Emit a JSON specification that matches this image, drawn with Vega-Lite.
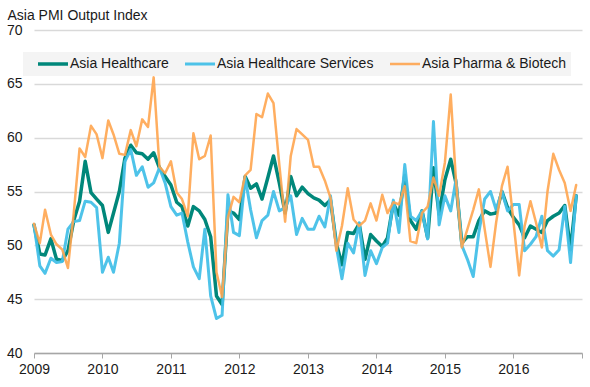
{
  "$schema": "https://vega.github.io/schema/vega-lite/v6.json",
  "width": 548,
  "height": 323,
  "autosize": "none",
  "padding": {"left": 34, "top": 30, "right": 8, "bottom": 34},
  "background": "white",
  "config": {
    "view": {"stroke": null},
    "font": "Liberation Sans"
  },
  "datasets": {
    "wide": [
      {"month":"2009-01","h":51.9,"s":51.9,"p":52.0},
      {"month":"2009-02","h":49.2,"s":48.1,"p":50.2},
      {"month":"2009-03","h":49.1,"s":47.4,"p":53.3},
      {"month":"2009-04","h":50.6,"s":48.8,"p":51.0},
      {"month":"2009-05","h":48.7,"s":48.4,"p":50.1},
      {"month":"2009-06","h":48.6,"s":48.5,"p":49.6},
      {"month":"2009-07","h":49.5,"s":51.5,"p":47.9},
      {"month":"2009-08","h":52.3,"s":52.2,"p":53.0},
      {"month":"2009-09","h":54.1,"s":52.3,"p":59.0},
      {"month":"2009-10","h":57.8,"s":54.1,"p":58.2},
      {"month":"2009-11","h":54.9,"s":54.0,"p":61.1},
      {"month":"2009-12","h":54.3,"s":53.5,"p":60.3},
      {"month":"2010-01","h":53.7,"s":47.5,"p":58.1},
      {"month":"2010-02","h":51.2,"s":48.9,"p":61.6},
      {"month":"2010-03","h":53.0,"s":47.5,"p":60.3},
      {"month":"2010-04","h":55.0,"s":50.2,"p":58.5},
      {"month":"2010-05","h":58.1,"s":57.8,"p":58.4},
      {"month":"2010-06","h":59.3,"s":58.9,"p":60.7},
      {"month":"2010-07","h":58.6,"s":56.5,"p":59.2},
      {"month":"2010-08","h":58.5,"s":57.3,"p":61.7},
      {"month":"2010-09","h":58.0,"s":55.4,"p":61.0},
      {"month":"2010-10","h":58.6,"s":55.8,"p":65.6},
      {"month":"2010-11","h":57.2,"s":57.2,"p":57.3},
      {"month":"2010-12","h":56.4,"s":55.8,"p":56.7},
      {"month":"2011-01","h":55.6,"s":53.6,"p":57.8},
      {"month":"2011-02","h":54.0,"s":52.8,"p":54.9},
      {"month":"2011-03","h":53.6,"s":53.0,"p":54.3},
      {"month":"2011-04","h":51.8,"s":50.3,"p":52.7},
      {"month":"2011-05","h":53.6,"s":48.0,"p":60.4},
      {"month":"2011-06","h":53.2,"s":46.9,"p":58.0},
      {"month":"2011-07","h":52.4,"s":51.5,"p":58.3},
      {"month":"2011-08","h":50.8,"s":45.3,"p":60.2},
      {"month":"2011-09","h":45.3,"s":43.2,"p":47.5},
      {"month":"2011-10","h":44.5,"s":43.5,"p":45.2},
      {"month":"2011-11","h":53.2,"s":54.7,"p":52.6},
      {"month":"2011-12","h":53.0,"s":51.2,"p":54.5},
      {"month":"2012-01","h":52.4,"s":50.9,"p":54.0},
      {"month":"2012-02","h":56.4,"s":56.3,"p":56.5},
      {"month":"2012-03","h":55.3,"s":53.3,"p":57.0},
      {"month":"2012-04","h":55.7,"s":50.7,"p":62.2},
      {"month":"2012-05","h":54.3,"s":52.3,"p":61.9},
      {"month":"2012-06","h":56.3,"s":52.8,"p":64.1},
      {"month":"2012-07","h":58.3,"s":55.0,"p":63.2},
      {"month":"2012-08","h":55.8,"s":53.2,"p":57.5},
      {"month":"2012-09","h":53.0,"s":53.5,"p":52.2},
      {"month":"2012-10","h":56.4,"s":54.6,"p":58.3},
      {"month":"2012-11","h":54.6,"s":51.0,"p":60.8},
      {"month":"2012-12","h":55.4,"s":52.5,"p":60.3},
      {"month":"2013-01","h":54.8,"s":51.5,"p":59.8},
      {"month":"2013-02","h":54.4,"s":51.5,"p":57.3},
      {"month":"2013-03","h":54.2,"s":52.7,"p":57.3},
      {"month":"2013-04","h":53.7,"s":51.7,"p":56.0},
      {"month":"2013-05","h":54.2,"s":54.6,"p":54.4},
      {"month":"2013-06","h":50.2,"s":49.9,"p":49.5},
      {"month":"2013-07","h":48.2,"s":46.9,"p":51.8},
      {"month":"2013-08","h":51.2,"s":50.2,"p":55.3},
      {"month":"2013-09","h":51.1,"s":49.3,"p":52.4},
      {"month":"2013-10","h":52.0,"s":52.1,"p":51.8},
      {"month":"2013-11","h":48.7,"s":47.2,"p":52.3},
      {"month":"2013-12","h":51.0,"s":49.5,"p":53.9},
      {"month":"2014-01","h":50.4,"s":48.3,"p":52.3},
      {"month":"2014-02","h":49.9,"s":49.8,"p":54.7},
      {"month":"2014-03","h":50.7,"s":50.2,"p":53.0},
      {"month":"2014-04","h":53.9,"s":54.2,"p":54.0},
      {"month":"2014-05","h":52.8,"s":51.2,"p":53.8},
      {"month":"2014-06","h":56.5,"s":57.5,"p":55.5},
      {"month":"2014-07","h":52.3,"s":52.7,"p":50.4},
      {"month":"2014-08","h":51.5,"s":52.3,"p":50.2},
      {"month":"2014-09","h":53.2,"s":53.2,"p":53.0},
      {"month":"2014-10","h":50.7,"s":50.6,"p":53.6},
      {"month":"2014-11","h":57.2,"s":61.5,"p":56.3},
      {"month":"2014-12","h":52.9,"s":51.9,"p":54.6},
      {"month":"2015-01","h":56.1,"s":54.6,"p":57.7},
      {"month":"2015-02","h":58.0,"s":53.2,"p":64.0},
      {"month":"2015-03","h":55.8,"s":56.1,"p":56.0},
      {"month":"2015-04","h":50.2,"s":50.0,"p":49.8},
      {"month":"2015-05","h":50.8,"s":48.7,"p":51.5},
      {"month":"2015-06","h":50.8,"s":47.1,"p":53.3},
      {"month":"2015-07","h":52.3,"s":51.2,"p":55.2},
      {"month":"2015-08","h":53.2,"s":54.3,"p":51.5},
      {"month":"2015-09","h":52.9,"s":55.0,"p":48.0},
      {"month":"2015-10","h":53.0,"s":53.3,"p":52.1},
      {"month":"2015-11","h":55.0,"s":55.0,"p":55.5},
      {"month":"2015-12","h":53.5,"s":53.2,"p":57.3},
      {"month":"2016-01","h":52.6,"s":53.8,"p":52.3},
      {"month":"2016-02","h":51.9,"s":53.8,"p":47.2},
      {"month":"2016-03","h":50.7,"s":49.5,"p":51.8},
      {"month":"2016-04","h":51.8,"s":50.1,"p":54.1},
      {"month":"2016-05","h":51.5,"s":50.8,"p":52.1},
      {"month":"2016-06","h":51.2,"s":52.7,"p":49.8},
      {"month":"2016-07","h":52.3,"s":49.5,"p":55.0},
      {"month":"2016-08","h":52.7,"s":49.0,"p":58.5},
      {"month":"2016-09","h":53.0,"s":49.6,"p":57.0},
      {"month":"2016-10","h":53.7,"s":53.6,"p":55.8},
      {"month":"2016-11","h":49.6,"s":48.4,"p":53.2},
      {"month":"2016-12","h":54.6,"s":54.6,"p":55.6}
    ]
  },
  "data": {"name": "wide", "format": {"parse": {"month": "date:'%Y-%m'"}}},
  "transform": [
    {"fold": ["h", "s", "p"], "as": ["key", "value"]},
    {"lookup": "key", "from": {"data": {"values": [
      {"key": "h", "series": "Asia Healthcare", "ord": 0},
      {"key": "s", "series": "Asia Healthcare Services", "ord": 1},
      {"key": "p", "series": "Asia Pharma & Biotech", "ord": 2}
    ]}, "key": "key", "fields": ["series", "ord"]}}
  ],
  "mark": {"type": "line", "strokeJoin": "round", "strokeCap": "round"},
  "encoding": {
    "x": {
      "field": "month", "type": "temporal",
      "scale": {"domain": [{"year": 2009, "month": 1, "date": 1}, {"year": 2017, "month": 1, "date": 1}]},
      "axis": {
        "title": null,
        "values": [{"year":2009},{"year":2010},{"year":2011},{"year":2012},{"year":2013},{"year":2014},{"year":2015},{"year":2016},{"year":2017}],
        "labelExpr": "year(datum.value) == 2017 ? '' : timeFormat(datum.value, '%Y')",
        "grid": false,
        "domainColor": "#a6a6a6", "domainWidth": 1.5,
        "tickColor": "#a6a6a6", "tickSize": 5, "tickWidth": 1,
        "labelFont": "Liberation Sans", "labelFontSize": 14, "labelColor": "#1a1a1a",
        "labelPadding": 4, "labelFlush": false, "labelOverlap": false
      }
    },
    "y": {
      "field": "value", "type": "quantitative",
      "scale": {"domain": [40, 70], "nice": false, "zero": false},
      "axis": {
        "title": "Asia PMI Output Index",
        "titleAngle": 0, "titleAlign": "left", "titleBaseline": "alphabetic",
        "titleX": -27, "titleY": -11,
        "titleFont": "Liberation Sans", "titleFontSize": 14, "titleFontWeight": "normal", "titleColor": "#1a1a1a",
        "values": [40, 45, 50, 55, 60, 65, 70],
        "domain": false, "ticks": false, "tickSize": 0,
        "labelPadding": 12, "labelFont": "Liberation Sans", "labelFontSize": 14, "labelColor": "#1a1a1a",
        "gridColor": "#d9d9d9", "gridWidth": 1.5
      }
    },
    "color": {
      "field": "series", "type": "nominal",
      "scale": {
        "domain": ["Asia Healthcare", "Asia Healthcare Services", "Asia Pharma & Biotech"],
        "range": ["#00877a", "#45c0e8", "#ffa54f"]
      },
      "legend": {
        "title": null, "orient": "none", "legendX": -11, "legendY": 22,
        "direction": "horizontal",
        "symbolType": "M0.6,0H6.6", "symbolSize": 100, "symbolStrokeWidth": 3,
        "labelFont": "Liberation Sans", "labelFontSize": 14, "labelColor": "#1a1a1a",
        "labelOffset": 28, "labelLimit": 300, "columnPadding": 6,
        "padding": 5, "fillColor": "#f4f4f4", "strokeColor": null
      }
    },
    "strokeWidth": {
      "field": "series", "type": "nominal",
      "scale": {"domain": ["Asia Healthcare", "Asia Healthcare Services", "Asia Pharma & Biotech"], "range": [3.5, 2.5, 2.5]},
      "legend": null
    },
    "opacity": {
      "field": "series", "type": "nominal",
      "scale": {"domain": ["Asia Healthcare", "Asia Healthcare Services", "Asia Pharma & Biotech"], "range": [1, 0.9, 0.85]},
      "legend": null
    },
    "order": {"field": "ord", "type": "quantitative"}
  }
}
